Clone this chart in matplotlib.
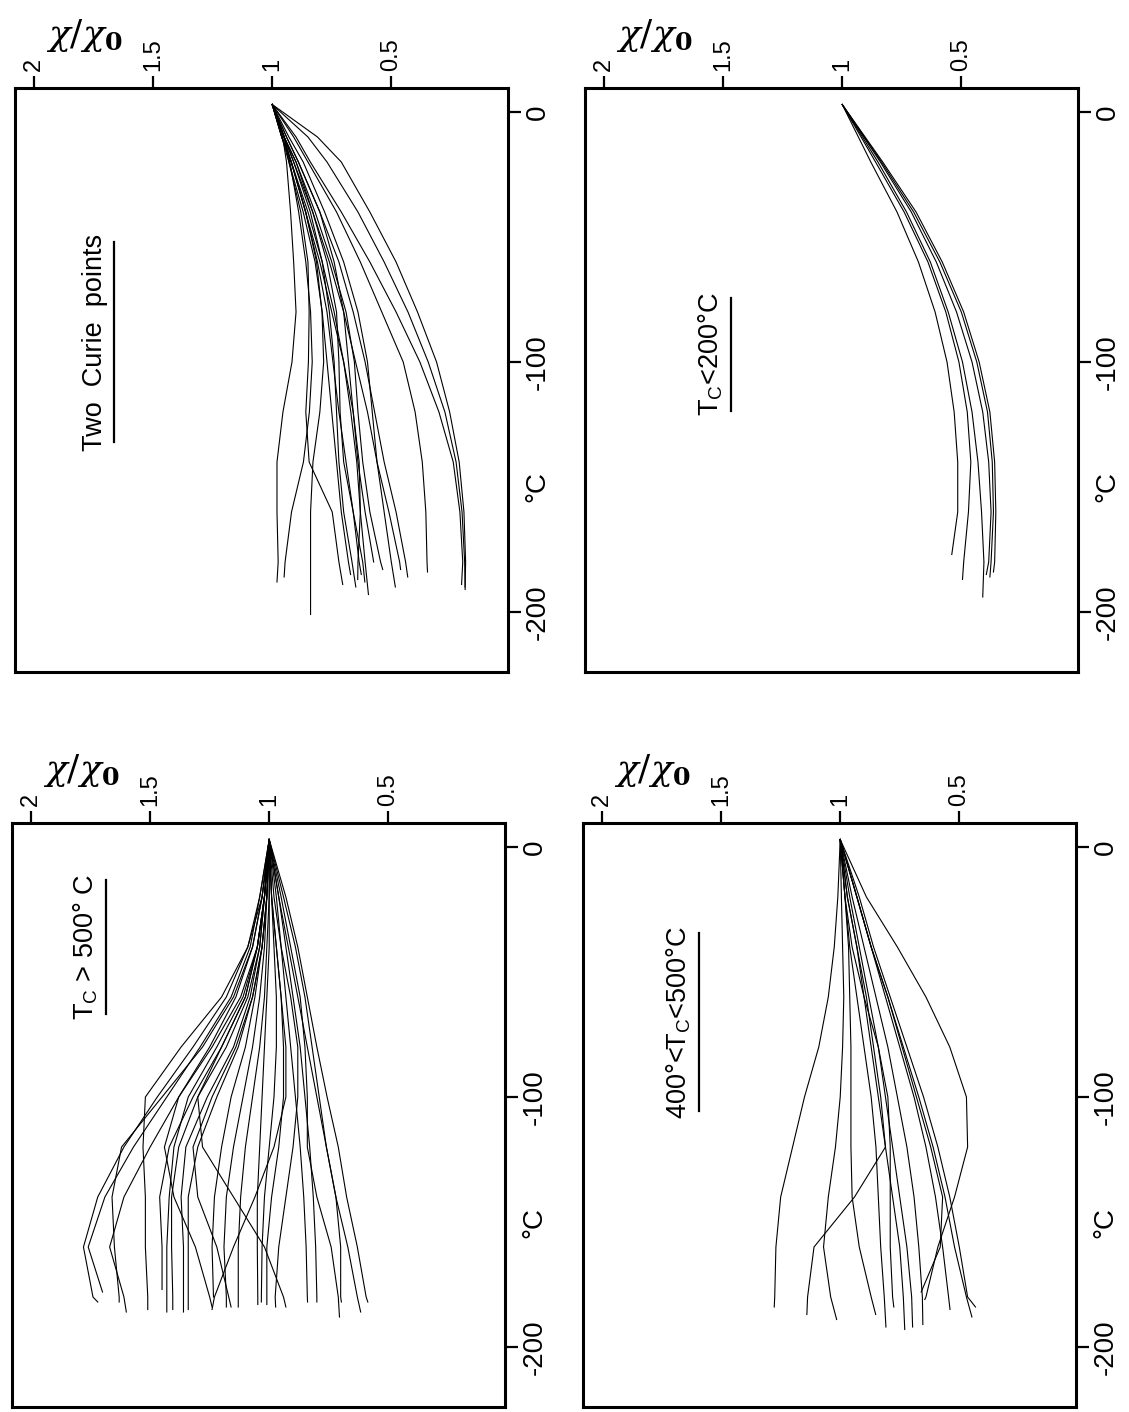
import matplotlib
matplotlib.use("Agg")
import matplotlib.pyplot as plt
from matplotlib.lines import Line2D

plt.rcParams['font.family'] = ['Liberation Sans', 'DejaVu Sans']
plt.rcParams['mathtext.fontset'] = 'dejavuserif'

grid_fine = [3, -10, -20, -40, -60, -80, -100, -120, -140, -160, -180]
grid = [3, -20, -40, -60, -80, -100, -120, -140, -160, -180]

chi_ticks = [2, 1.5, 1, 0.5]
chi_labels = ['2', '1.5', '1', '0.5']
t_ticks = [0, -100, -200]
t_labels = ['0', '-100', '-200']

# --- Two Curie points (grid_fine) ---
two_curie_end = [-190, -191, -189, -184, -186, -183, -190, -183, -180, -193,
                 -188, -185, -190, -185, -189, -187, -188, -186, -201]
two_curie_chi = [
    [1.0, 0.81, 0.71, 0.59, 0.48, 0.39, 0.31, 0.255, 0.215, 0.195, 0.188, 0.19],
    [1.0, 0.85, 0.77, 0.64, 0.53, 0.43, 0.345, 0.275, 0.228, 0.203, 0.192, 0.19],
    [1.0, 0.90, 0.84, 0.71, 0.59, 0.48, 0.38, 0.30, 0.24, 0.212, 0.20, 0.205],
    [1.0, 0.91, 0.85, 0.73, 0.63, 0.54, 0.45, 0.40, 0.37, 0.355, 0.35, 0.348],
    [1.0, 0.94, 0.89, 0.80, 0.72, 0.66, 0.61, 0.57, 0.53, 0.48, 0.44, 0.431],
    [1.0, 0.93, 0.87, 0.78, 0.70, 0.64, 0.60, 0.58, 0.56, 0.51, 0.465, 0.461],
    [1.0, 0.95, 0.91, 0.83, 0.76, 0.70, 0.65, 0.60, 0.56, 0.53, 0.50, 0.483],
    [1.0, 0.95, 0.90, 0.82, 0.75, 0.69, 0.655, 0.64, 0.62, 0.59, 0.545, 0.536],
    [1.0, 0.94, 0.89, 0.80, 0.74, 0.70, 0.68, 0.66, 0.64, 0.61, 0.574],
    [1.0, 0.96, 0.92, 0.85, 0.79, 0.74, 0.70, 0.67, 0.645, 0.63, 0.61, 0.596],
    [1.0, 0.95, 0.90, 0.83, 0.77, 0.73, 0.72, 0.715, 0.70, 0.66, 0.62, 0.611],
    [1.0, 0.96, 0.92, 0.86, 0.81, 0.77, 0.745, 0.72, 0.69, 0.66, 0.635, 0.626],
    [1.0, 0.95, 0.91, 0.84, 0.79, 0.76, 0.74, 0.73, 0.72, 0.70, 0.665, 0.649],
    [1.0, 0.96, 0.93, 0.87, 0.82, 0.79, 0.77, 0.75, 0.73, 0.71, 0.68, 0.671],
    [1.0, 0.95, 0.93, 0.88, 0.85, 0.845, 0.848, 0.859, 0.845, 0.748, 0.72, 0.704],
    [1.0, 0.96, 0.92, 0.86, 0.80, 0.75, 0.70, 0.66, 0.635, 0.63, 0.64, 0.641],
    [1.0, 0.956, 0.94, 0.923, 0.91, 0.90, 0.917, 0.955, 0.98, 0.98, 0.975, 0.98],
    [1.0, 0.95, 0.926, 0.889, 0.859, 0.839, 0.832, 0.844, 0.869, 0.919, 0.946, 0.95],
    [1.0, 0.95, 0.92, 0.859, 0.814, 0.791, 0.784, 0.80, 0.829, 0.839, 0.839, 0.839],
]

# --- Tc < 200 °C (grid) ---
tc200_end = [-177, -187, -194, -185, -184, -186]
tc200_chi = [
    [1.0, 0.88, 0.77, 0.68, 0.61, 0.56, 0.53, 0.515, 0.515, 0.54],
    [1.0, 0.86, 0.74, 0.64, 0.565, 0.51, 0.475, 0.46, 0.47, 0.49, 0.495],
    [1.0, 0.85, 0.73, 0.63, 0.555, 0.495, 0.455, 0.43, 0.415, 0.405, 0.41],
    [1.0, 0.84, 0.71, 0.605, 0.52, 0.455, 0.41, 0.385, 0.375, 0.385, 0.395],
    [1.0, 0.83, 0.69, 0.58, 0.49, 0.425, 0.38, 0.36, 0.355, 0.36, 0.365],
    [1.0, 0.835, 0.70, 0.59, 0.50, 0.435, 0.39, 0.37, 0.365, 0.375, 0.38],
]

# --- Tc > 500 °C (grid) ---
tc500_end = [-182, -178, -186, -185, -182, -177, -186, -185, -186, -185,
             -184, -180, -184, -184, -184, -183, -182, -183, -185, -184,
             -182, -186, -188, -182, -182, -182, -184]
tc500_chi = [
    [1.0, 1.04, 1.09, 1.18, 1.32, 1.47, 1.61, 1.72, 1.78, 1.74, 1.72],
    [1.0, 1.04, 1.08, 1.16, 1.29, 1.43, 1.57, 1.69, 1.76, 1.70],
    [1.0, 1.03, 1.07, 1.14, 1.25, 1.38, 1.50, 1.61, 1.67, 1.61, 1.60],
    [1.0, 1.03, 1.09, 1.20, 1.37, 1.52, 1.53, 1.52, 1.52, 1.51, 1.51],
    [1.0, 1.03, 1.07, 1.15, 1.28, 1.45, 1.62, 1.66, 1.65, 1.63, 1.63],
    [1.0, 1.02, 1.05, 1.10, 1.20, 1.32, 1.42, 1.46, 1.45, 1.45],
    [1.0, 1.02, 1.05, 1.11, 1.22, 1.34, 1.40, 1.42, 1.43, 1.43, 1.43],
    [1.0, 1.02, 1.04, 1.09, 1.18, 1.30, 1.38, 1.41, 1.41, 1.405, 1.405],
    [1.0, 1.02, 1.04, 1.08, 1.15, 1.26, 1.35, 1.37, 1.36, 1.36, 1.36],
    [1.0, 1.01, 1.03, 1.07, 1.13, 1.22, 1.30, 1.34, 1.34, 1.34, 1.34],
    [1.0, 1.02, 1.05, 1.12, 1.24, 1.38, 1.44, 1.40, 1.31, 1.25, 1.24],
    [1.0, 1.01, 1.03, 1.06, 1.10, 1.16, 1.20, 1.23, 1.24, 1.234],
    [1.0, 1.01, 1.02, 1.04, 1.07, 1.11, 1.15, 1.18, 1.19, 1.18, 1.18],
    [1.0, 1.0, 1.01, 1.02, 1.04, 1.07, 1.10, 1.12, 1.13, 1.13, 1.13],
    [1.0, 1.02, 1.05, 1.10, 1.20, 1.30, 1.28, 1.15, 1.02, 0.94, 0.93],
    [1.0, 1.0, 1.0, 1.01, 1.02, 1.03, 1.04, 1.05, 1.05, 1.048, 1.048],
    [1.0, 0.99, 0.98, 0.97, 0.97, 0.98, 1.0, 1.02, 1.03, 1.033, 1.033],
    [1.0, 0.99, 0.97, 0.95, 0.94, 0.94, 0.96, 0.99, 1.01, 1.01, 1.01],
    [1.0, 0.99, 0.97, 0.95, 0.93, 0.93, 0.98, 1.06, 1.15, 1.23, 1.24],
    [1.0, 0.98, 0.95, 0.91, 0.88, 0.88, 0.90, 0.93, 0.96, 0.975, 0.973],
    [1.0, 0.93, 0.88, 0.84, 0.80, 0.757, 0.71, 0.675, 0.63, 0.593, 0.586],
    [1.0, 0.94, 0.89, 0.85, 0.82, 0.79, 0.76, 0.72, 0.67, 0.63, 0.616],
    [1.0, 0.95, 0.91, 0.87, 0.85, 0.84, 0.84, 0.80, 0.74, 0.71, 0.705],
    [1.0, 0.96, 0.92, 0.88, 0.84, 0.80, 0.76, 0.72, 0.70, 0.70, 0.697],
    [1.0, 0.96, 0.93, 0.90, 0.87, 0.85, 0.83, 0.815, 0.805, 0.80, 0.80],
    [1.0, 0.97, 0.95, 0.93, 0.91, 0.89, 0.87, 0.855, 0.845, 0.84, 0.839],
    [1.0, 1.01, 1.03, 1.07, 1.14, 1.24, 1.32, 1.30, 1.22, 1.17, 1.16],
]

# --- 400 °C < Tc < 500 °C (grid) ---
tc400_end = [-184, -187, -189, -187, -181, -184, -188, -185, -178, -191,
             -192, -193, -184, -192]
tc400_chi = [
    [1.0, 1.01, 1.025, 1.05, 1.09, 1.15, 1.20, 1.25, 1.27, 1.275, 1.277],
    [1.0, 0.97, 0.93, 0.89, 0.86, 0.83, 0.81, 0.94, 1.11, 1.137, 1.14],
    [1.0, 0.995, 0.99, 0.985, 0.99, 1.0, 1.02, 1.05, 1.07, 1.04, 1.015],
    [1.0, 0.98, 0.965, 0.96, 0.955, 0.955, 0.955, 0.95, 0.92, 0.87, 0.851],
    [1.0, 0.89, 0.76, 0.64, 0.54, 0.47, 0.465, 0.52, 0.59, 0.64, 0.645],
    [1.0, 0.92, 0.86, 0.79, 0.72, 0.65, 0.59, 0.54, 0.50, 0.465, 0.432],
    [1.0, 0.93, 0.87, 0.80, 0.735, 0.67, 0.61, 0.56, 0.52, 0.47, 0.447],
    [1.0, 0.93, 0.87, 0.81, 0.75, 0.69, 0.64, 0.60, 0.57, 0.545, 0.539],
    [1.0, 0.93, 0.87, 0.80, 0.74, 0.68, 0.62, 0.57, 0.58, 0.66],
    [1.0, 0.95, 0.90, 0.85, 0.80, 0.76, 0.72, 0.69, 0.67, 0.655, 0.653],
    [1.0, 0.96, 0.92, 0.88, 0.84, 0.81, 0.78, 0.75, 0.72, 0.70, 0.696],
    [1.0, 0.97, 0.93, 0.90, 0.87, 0.84, 0.81, 0.78, 0.75, 0.735, 0.729],
    [1.0, 0.98, 0.95, 0.90, 0.84, 0.80, 0.79, 0.79, 0.79, 0.78, 0.775],
    [1.0, 0.98, 0.96, 0.93, 0.90, 0.87, 0.85, 0.84, 0.83, 0.815, 0.808],
]


def temps_for(g, t_end):
    return [t for t in g if t > t_end] + [t_end]


def setup(ax):
    ax.set_xlim(2.08, 0.01)
    ax.set_ylim(-224, 9.6)
    ax.xaxis.tick_top()
    ax.yaxis.tick_right()
    ax.set_xticks(chi_ticks)
    ax.set_xticklabels(chi_labels, rotation=90, fontsize=17)
    ax.set_yticks(t_ticks)
    ax.set_yticklabels(t_labels, rotation=90, fontsize=20, va='center')
    ax.tick_params(direction='out', length=9, width=1.6, pad=3)
    for s in ax.spines.values():
        s.set_linewidth(2.2)
    ax.text(1.034, -150, '°C', transform=ax.get_yaxis_transform(),
            rotation=90, ha='left', va='center', fontsize=20)
    ax.text(0.14, 1.09, r'$\chi/\chi_\mathbf{0}$', transform=ax.transAxes,
            fontsize=26, ha='center', va='center')


fig = plt.figure(figsize=(11.29, 14.12), dpi=100)
w, h = 0.43667, 0.41360
panels = [
    ([0.01329, 0.52408, w, h], grid_fine, two_curie_chi, two_curie_end,
     'Two  Curie  points', 1.745, -92),
    ([0.51816, 0.52408, w, h], grid, tc200_chi, tc200_end,
     r'T$_\mathregular{C}$<200°C', 1.55, -97),
    ([0.01063, 0.00354, w, h], grid, tc500_chi, tc500_end,
     r'T$_\mathregular{C}$ > 500° C', 1.77, -40),
    ([0.51638, 0.00354, w, h], grid, tc400_chi, tc400_end,
     r'400°<T$_\mathregular{C}$<500°C', 1.68, -70),
]

titles = []
for rect, g, chis, ends, title, tx, ty in panels:
    ax = fig.add_axes(rect)
    setup(ax)
    for chi, t_end in zip(chis, ends):
        ax.plot(chi, temps_for(g, t_end), color='black', lw=0.8,
                solid_joinstyle='round')
    titles.append(ax.text(tx, ty, title, rotation=90, ha='center',
                          va='center', fontsize=19.5))

# underline the panel titles (below the rotated text = to its right)
fig.canvas.draw()
r = fig.canvas.get_renderer()
inv = fig.transFigure.inverted()
for txt in titles:
    bb = txt.get_window_extent(r).transformed(inv)
    x = bb.x1 + 6 / 1129
    inset = 0.04 * (bb.y1 - bb.y0)
    fig.add_artist(Line2D([x, x], [bb.y0 + inset, bb.y1 - inset],
                          color='black', lw=1.6))

fig.savefig('out.png', dpi=100)
